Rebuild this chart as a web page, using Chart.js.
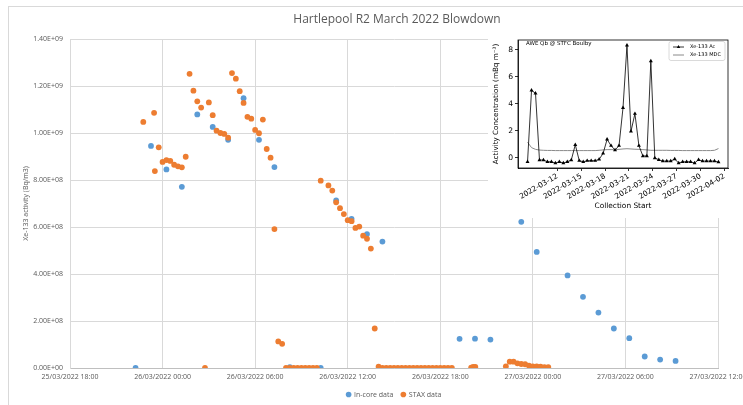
<!DOCTYPE html>
<html>
<head>
<meta charset="utf-8">
<script src="https://cdn.jsdelivr.net/npm/chart.js@4.4.1/dist/chart.umd.min.js"></script>
<style>
  html, body { margin: 0; padding: 0; background: #fff; }
  #wrap { position: relative; width: 743px; height: 405px; overflow: hidden; }
  #main { position: absolute; left: 0; top: 0; }
  #inset { position: absolute; left: 488px; top: 28px; background: #fff; }
</style>
</head>
<body>
<div id="wrap">
  <canvas id="main" width="743" height="405"></canvas>
  <canvas id="inset" width="255" height="190"></canvas>
</div>
<script>
// main chart: hours after 26/03/2022 00:00
const xTickHours = [-6, 0, 6, 12, 18, 24, 30, 36];
const xTickLabels = ['25/03/2022 18:00', '26/03/2022 00:00', '26/03/2022 06:00', '26/03/2022 12:00',
    '26/03/2022 18:00', '27/03/2022 00:00', '27/03/2022 06:00', '27/03/2022 12:00'];
const yTicks = [0, 2e8, 4e8, 6e8, 8e8, 10e8, 12e8, 14e8];

const inCoreHours = [-1.75, -0.75, 0.25, 1.25, 2.25, 3.25, 4.25, 5.25, 6.25, 7.25, 8.25, 10.25, 11.25, 12.25,
    13.25, 14.25, 19.25, 20.25, 21.25, 23.25, 24.25, 26.25, 27.25, 28.25, 29.25, 30.25, 31.25, 32.25, 33.25];
const inCoreValues = [0, 9.45e8, 8.45e8, 7.71e8, 10.79e8, 10.26e8, 9.71e8, 11.48e8, 9.71e8, 8.55e8, 0.04e8, 0,
    7.13e8, 6.35e8, 5.70e8, 5.38e8, 1.24e8, 1.25e8, 1.21e8, 6.22e8, 4.94e8, 3.94e8, 3.03e8, 2.36e8, 1.68e8,
    1.27e8, 0.49e8, 0.36e8, 0.30e8];

const staxHours = [-1.25, -0.55, -0.5, -0.25, 0, 0.25, 0.5, 0.75, 1, 1.25, 1.5, 1.75, 2, 2.25, 2.5, 2.75,
    3, 3.25, 3.5, 3.75, 4, 4.25, 4.5, 4.75, 5, 5.25, 5.5, 5.75, 6, 6.25, 6.5, 6.75, 7, 7.25, 7.5, 7.75,
    8, 8.25, 8.5, 8.75, 9, 9.25, 9.5, 9.75, 10,
    10.25, 10.75, 11, 11.25, 11.5, 11.75, 12, 12.25, 12.5, 12.75, 13, 13.25, 13.5, 13.75, 14,
    14.25, 14.5, 14.75, 15, 15.25, 15.5, 15.75, 16, 16.25, 16.5, 16.75, 17, 17.25, 17.5, 17.75, 18, 18.25, 18.5, 18.75,
    20, 20.13, 20.27,
    22.25, 22.5, 22.75, 23, 23.25, 23.5, 23.75, 24, 24.25, 24.5, 24.75, 25];
const staxValues = [10.47e8, 10.86e8, 8.38e8, 9.39e8, 8.77e8, 8.85e8, 8.81e8, 8.65e8, 8.58e8, 8.54e8, 8.99e8,
    12.52e8, 11.80e8, 11.35e8, 11.08e8, 0,
    11.30e8, 10.76e8, 10.10e8, 10.00e8, 9.96e8, 9.80e8, 12.55e8, 12.31e8, 11.78e8, 11.28e8, 10.69e8, 10.61e8,
    10.13e8, 9.99e8, 10.57e8, 9.32e8, 8.95e8, 5.91e8, 1.13e8, 1.03e8,
    0, 0, 0, 0, 0, 0, 0, 0, 0,
    7.97e8, 7.77e8, 7.55e8, 7.05e8, 6.80e8, 6.55e8, 6.29e8, 6.25e8, 5.96e8, 6.02e8, 5.63e8, 5.50e8, 5.08e8,
    1.68e8, 0.06e8,
    0, 0, 0, 0, 0, 0, 0, 0, 0, 0, 0, 0, 0, 0, 0, 0, 0, 0, 0,
    0.02e8, 0.05e8, 0.05e8,
    0.07e8, 0.27e8, 0.27e8, 0.20e8, 0.17e8, 0.16e8, 0.10e8, 0.07e8, 0.07e8, 0.06e8, 0.04e8, 0.04e8];

// inset: collection start, days after 2022-03-01 00:00
const inTickDays = [11, 14, 17, 20, 23, 26, 29, 32];
const inTickLabels = ['2022-03-12', '2022-03-15', '2022-03-18', '2022-03-21', '2022-03-24', '2022-03-27',
    '2022-03-30', '2022-04-02'];
const inYTicks = [0, 2, 4, 6, 8];
const inDays = [7.25, 7.75, 8.25, 8.75, 9.25, 9.75, 10.25, 10.75, 11.25, 11.75, 12.25, 12.75, 13.25, 13.75,
    14.25, 14.75, 15.25, 15.75, 16.25, 16.75, 17.25, 17.75, 18.25, 18.75, 19.25, 19.75, 20.25, 20.75, 21.25,
    21.75, 22.25, 22.75, 23.25, 23.75, 24.25, 24.75, 25.25, 25.75, 26.25, 26.75, 27.25, 27.75, 28.25, 28.75,
    29.25, 29.75, 30.25, 30.75, 31.25];
const inAc = [-0.30, 4.99, 4.77, -0.17, -0.17, -0.30, -0.30, -0.39, -0.30, -0.39, -0.30, -0.17, 0.96, -0.22,
    -0.30, -0.22, -0.22, -0.22, -0.12, 0.32, 1.36, 0.89, 0.57, 0.89, 3.70, 8.32, 1.95, 3.26, 0.89, 0.13, 0.13,
    7.16, -0.02, -0.15, -0.25, -0.25, -0.25, -0.10, -0.39, -0.30, -0.30, -0.30, -0.39, -0.15, -0.25, -0.25,
    -0.25, -0.25, -0.32];
const inMdc = [1.15, 0.75, 0.62, 0.57, 0.55, 0.54, 0.54, 0.53, 0.53, 0.53, 0.53, 0.53, 0.53, 0.53, 0.53, 0.53,
    0.53, 0.53, 0.55, 0.58, 0.60, 0.60, 0.60, 0.62, 0.65, 0.67, 0.65, 0.63, 0.62, 0.60, 0.58, 0.55, 0.55, 0.55,
    0.55, 0.55, 0.54, 0.54, 0.54, 0.53, 0.53, 0.53, 0.53, 0.53, 0.53, 0.53, 0.53, 0.55, 0.68];

const GREY = '#595959';
const INSET_FONT = 'DejaVu Sans';

function sciLabel(v) {
    const [m, e] = v.toExponential(2).split('e');
    const n = Number(e);
    return m + 'E' + (n < 0 ? '-' : '+') + String(Math.abs(n)).padStart(2, '0');
}

function points(xs, ys) {
    return xs.map((x, i) => ({ x, y: ys[i] }));
}

Chart.defaults.font.family = "'Open Sans', sans-serif";
Chart.defaults.color = GREY;

const mainDecor = {
    id: 'mainDecor',
    beforeDraw(chart) {
        const ctx = chart.ctx;
        ctx.save();
        ctx.fillStyle = '#fff';
        ctx.fillRect(0, 0, chart.width, chart.height);
        ctx.strokeStyle = '#d9d9d9';
        ctx.lineWidth = 1;
        ctx.strokeRect(8.5, 6.5, chart.width + 20, chart.height + 20);
        ctx.restore();
    },
    afterDraw(chart) {
        const ctx = chart.ctx;
        ctx.save();
        ctx.font = "12px 'Open Sans'";
        ctx.fillStyle = GREY;
        ctx.textAlign = 'center';
        ctx.textBaseline = 'middle';
        ctx.fillText('Hartlepool R2 March 2022 Blowdown', 397, 20);
        ctx.restore();
    },
};

new Chart(document.getElementById('main'), {
    type: 'scatter',
    data: {
        datasets: [
            {
                label: 'In-core data',
                data: points(inCoreHours, inCoreValues),
                backgroundColor: '#5B9BD5',
                pointBackgroundColor: '#5B9BD5',
                borderWidth: 0,
                pointBorderWidth: 0,
                pointRadius: 2.9,
                order: 2,
            },
            {
                label: 'STAX data',
                data: points(staxHours, staxValues),
                backgroundColor: '#ED7D31',
                pointBackgroundColor: '#ED7D31',
                borderWidth: 0,
                pointBorderWidth: 0,
                pointRadius: 2.9,
                order: 1,
            },
        ],
    },
    options: {
        responsive: false,
        animation: false,
        devicePixelRatio: 1,
        layout: { padding: { top: 39, right: 25, bottom: -3, left: 18 } },
        scales: {
            x: {
                type: 'linear',
                min: -6,
                max: 36,
                afterBuildTicks: (s) => { s.ticks = xTickHours.map((v) => ({ value: v })); },
                afterFit: (s) => { s.height = 15; s.paddingLeft = 0; s.paddingRight = 0; },
                ticks: {
                    callback: (v, i) => xTickLabels[i],
                    autoSkip: false,
                    maxRotation: 0,
                    minRotation: 0,
                    padding: 5,
                    font: { size: 7 },
                },
                grid: { color: '#d9d9d9', drawTicks: false },
                border: { color: '#bfbfbf' },
            },
            y: {
                min: 0,
                max: 1.4e9,
                afterBuildTicks: (s) => { s.ticks = yTicks.map((v) => ({ value: v })); },
                afterFit: (s) => { s.width = 52; },
                ticks: { callback: (v) => sciLabel(v), padding: 7, font: { size: 7 } },
                grid: { color: '#d9d9d9', drawTicks: false },
                border: { color: '#d9d9d9' },
                title: {
                    display: true,
                    text: 'Xe-133 activity (Bq/m3)',
                    font: { size: 7 },
                    padding: { top: 4, bottom: 0 },
                },
            },
        },
        plugins: {
            legend: {
                position: 'bottom',
                fullSize: false,
                labels: {
                    usePointStyle: true,
                    pointStyle: 'circle',
                    boxWidth: 4,
                    boxHeight: 4,
                    padding: 8,
                    font: { size: 7 },
                    sort: (a, b) => a.datasetIndex - b.datasetIndex,
                },
            },
            tooltip: { enabled: false },
        },
    },
    plugins: [mainDecor],
});

const insetDecor = {
    id: 'insetDecor',
    beforeDraw(chart) {
        const ctx = chart.ctx;
        ctx.save();
        ctx.fillStyle = '#fff';
        ctx.fillRect(0, 0, chart.width, chart.height);
        ctx.restore();
    },
    afterDraw(chart) {
        const { ctx, chartArea: a } = chart;
        ctx.save();
        ctx.strokeStyle = '#000';
        ctx.lineWidth = 0.8;
        ctx.strokeRect(a.left, a.top, a.right - a.left, a.bottom - a.top);

        ctx.fillStyle = '#000';
        ctx.textBaseline = 'middle';
        ctx.font = `5.5px '${INSET_FONT}'`;
        ctx.fillText('AWE Qb @ STFC Boulby', a.left + 8, a.top + 3.5);

        // legend box, top right
        const bw = 56, bh = 19;
        const bx = a.right - bw - 3, by = a.top + 1.5;
        ctx.strokeStyle = '#d0d0d0';
        ctx.lineWidth = 0.8;
        ctx.beginPath();
        ctx.roundRect(bx, by, bw, bh, 2);
        ctx.stroke();
        ctx.font = `5px '${INSET_FONT}'`;
        chart.data.datasets.forEach((ds, i) => {
            const y = by + 5.5 + i * 8;
            ctx.strokeStyle = ds.borderColor;
            ctx.lineWidth = ds.borderWidth;
            ctx.beginPath();
            ctx.moveTo(bx + 4, y);
            ctx.lineTo(bx + 15, y);
            ctx.stroke();
            if (ds.pointRadius > 0) {
                ctx.fillStyle = '#000';
                Chart.helpers.drawPoint(ctx, { pointStyle: 'triangle', radius: 2, borderWidth: 0 }, bx + 9.5, y);
            }
            ctx.fillStyle = '#000';
            ctx.fillText(ds.label, bx + 21, y);
        });
        ctx.restore();
    },
};

new Chart(document.getElementById('inset'), {
    type: 'line',
    data: {
        datasets: [
            {
                label: 'Xe-133 Ac',
                data: points(inDays, inAc),
                borderColor: '#000',
                borderWidth: 0.8,
                pointStyle: 'triangle',
                pointRadius: 2.3,
                pointBackgroundColor: '#000',
                pointBorderWidth: 0,
                tension: 0,
            },
            {
                label: 'Xe-133 MDC',
                data: points(inDays, inMdc),
                borderColor: '#8a8a8a',
                borderWidth: 1,
                pointRadius: 0,
                tension: 0,
            },
        ],
    },
    options: {
        responsive: false,
        animation: false,
        devicePixelRatio: 1,
        layout: { padding: { top: 12, right: 15, bottom: 0, left: 0 } },
        scales: {
            x: {
                type: 'linear',
                min: 6.05,
                max: 32.45,
                afterBuildTicks: (s) => { s.ticks = inTickDays.map((v) => ({ value: v })); },
                afterFit: (s) => { s.height = 50; s.paddingLeft = 0; s.paddingRight = 0; },
                ticks: {
                    callback: (v, i) => inTickLabels[i],
                    autoSkip: false,
                    minRotation: 30,
                    maxRotation: 30,
                    padding: 1,
                    color: '#000',
                    font: { family: INSET_FONT, size: 7.4 },
                },
                grid: { drawOnChartArea: false, tickLength: 3, color: '#000', tickWidth: 0.8 },
                border: { color: '#000', width: 0.8 },
                title: {
                    display: true,
                    text: 'Collection Start',
                    color: '#000',
                    font: { family: INSET_FONT, size: 7.4 },
                    padding: { top: 0, bottom: 7 },
                },
            },
            y: {
                min: -0.76,
                max: 8.72,
                afterBuildTicks: (s) => { s.ticks = inYTicks.map((v) => ({ value: v })); },
                afterFit: (s) => { s.width = 30; },
                ticks: { padding: 2, color: '#000', font: { family: INSET_FONT, size: 7.6 } },
                grid: { drawOnChartArea: false, tickLength: 3, color: '#000', tickWidth: 0.8 },
                border: { color: '#000', width: 0.8 },
                title: {
                    display: true,
                    text: 'Activity Concentration (mBq m\u207B\u00B3)',
                    color: '#000',
                    font: { family: INSET_FONT, size: 7.2 },
                    padding: { top: 4, bottom: 0 },
                },
            },
        },
        plugins: {
            legend: { display: false },
            tooltip: { enabled: false },
        },
    },
    plugins: [insetDecor],
});
</script>
</body>
</html>
